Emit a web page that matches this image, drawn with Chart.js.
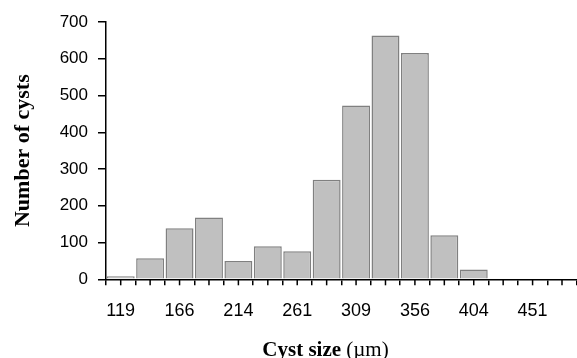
<!DOCTYPE html>
<html>
<head>
<meta charset="utf-8">
<script src="https://cdn.jsdelivr.net/npm/chart.js@4.4.1/dist/chart.umd.min.js"></script>
<style>
  html, body { margin: 0; padding: 0; background: #ffffff; }
  #wrap { width: 577px; height: 358px; position: relative; }
</style>
</head>
<body>
<div id="wrap"><canvas id="c" width="577" height="358"></canvas></div>
<script>
// Bin centres of cyst size (µm)
const sizeBins = ['119','143','166','190','214','238','261','285','309','332','356','380','404','427','451','475'];
// Number of cysts per bin
const cystCounts = [8, 57, 139, 168, 50, 90, 76, 271, 473, 663, 616, 120, 27, 0, 0, 0];
// Y tick values that carry labels
const yLabelStep = 100;
const yMinorStep = 50;
const yMax = 700;
const yTitle = 'Number of cysts';
const xTitleBold = 'Cyst size';
const xTitleUnit = '(µm)';

const midTicks = {
  id: 'midTicks',
  afterDraw(chart) {
    const x = chart.scales.x;
    const ctx = chart.ctx;
    ctx.save();
    ctx.strokeStyle = '#000';
    ctx.lineWidth = 1.5;
    const y0 = x.top;
    for (let i = 0; i < sizeBins.length; i++) {
      const px = x.getPixelForValue(i);
      ctx.beginPath();
      ctx.moveTo(px, y0);
      ctx.lineTo(px, y0 + 6);
      ctx.stroke();
    }
    // x axis title: bold part + regular unit
    ctx.fillStyle = '#000';
    ctx.textBaseline = 'alphabetic';
    ctx.textAlign = 'left';
    const boldFont = 'bold 21px "Liberation Serif", "Times New Roman", serif';
    const regFont = '21px "Liberation Serif", "Times New Roman", serif';
    ctx.font = boldFont;
    const w1 = ctx.measureText(xTitleBold + ' ').width;
    ctx.font = regFont;
    const w2 = ctx.measureText(xTitleUnit).width;
    const total = w1 + w2;
    const cx = 325.5;
    const startX = cx - total / 2;
    ctx.font = boldFont;
    ctx.fillText(xTitleBold + ' ', startX, 356);
    ctx.font = regFont;
    ctx.fillText(xTitleUnit, startX + w1, 356);
    ctx.restore();
  }
};

new Chart(document.getElementById('c'), {
  type: 'bar',
  data: {
    labels: sizeBins,
    datasets: [{
      data: cystCounts,
      backgroundColor: '#c0c0c0',
      borderColor: '#808080',
      borderWidth: 1.5,
      borderSkipped: 'bottom',
      barPercentage: 0.95,
      categoryPercentage: 1.0
    }]
  },
  options: {
    responsive: false,
    animation: false,
    devicePixelRatio: 1,
    layout: { padding: { top: 22, right: 0, bottom: 0, left: 0 } },
    plugins: { legend: { display: false }, tooltip: { enabled: false }, title: { display: false } },
    scales: {
      x: {
        type: 'category',
        offset: true,
        grid: { display: true, offset: true, drawOnChartArea: false, drawTicks: true, tickLength: 6, color: '#000', lineWidth: 1.5 },
        border: { display: true, color: '#000', width: 1.5 },
        ticks: {
          autoSkip: false,
          maxRotation: 0,
          minRotation: 0,
          padding: 15,
          color: '#000',
          font: { family: '"Liberation Sans", Arial, sans-serif', size: 18 },
          callback: function(v, i) { return i % 2 === 0 ? sizeBins[i] : ''; }
        },
        afterFit(scale) { scale.height = 78.7; }
      },
      y: {
        min: 0,
        max: yMax,
        grid: { display: true, drawOnChartArea: false, drawTicks: true, tickLength: 8, color: '#000', lineWidth: 1.5 },
        border: { display: true, color: '#000', width: 1.5 },
        ticks: {
          stepSize: yMinorStep,
          padding: 10,
          color: '#000',
          font: { family: '"Liberation Sans", Arial, sans-serif', size: 17 },
          callback: function(v) { return v % yLabelStep === 0 ? String(v) : ''; }
        },
        title: {
          display: true,
          text: yTitle,
          color: '#000',
          padding: { top: 10, bottom: 0 },
          font: { family: '"Liberation Serif", "Times New Roman", serif', size: 22, weight: 'bold' }
        },
        afterFit(scale) { scale.width = 106; }
      }
    }
  },
  plugins: [midTicks]
});
</script>
</body>
</html>
